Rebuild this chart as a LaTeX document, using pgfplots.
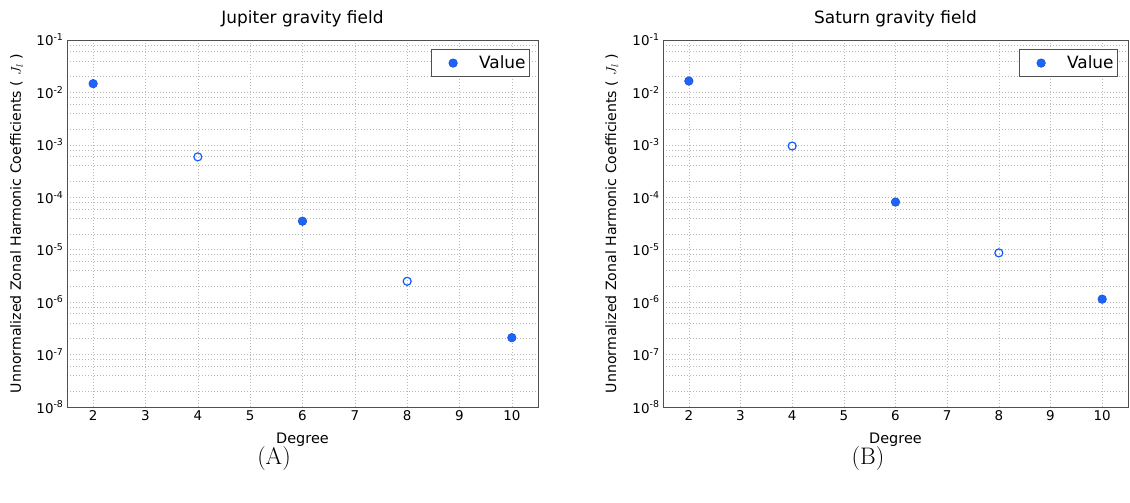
\documentclass[border=0pt]{standalone}
\usepackage{fontspec}
\usepackage{pgfplots}
\usepackage{pgfplotstable}
\pgfplotsset{compat=1.18}
\newfontfamily\dv{DejaVu Sans}
\definecolor{mblue}{RGB}{30,100,250}
\definecolor{mblueedge}{RGB}{20,75,215}
\definecolor{hblue}{RGB}{15,90,255}
\definecolor{frame}{RGB}{80,80,80}
\definecolor{gridc}{RGB}{185,185,185}

\pgfplotstableread{
deg val
2 0.0147
6 3.5e-5
10 2.1e-7
}\juppos
\pgfplotstableread{
deg val
4 5.9e-4
8 2.5e-6
}\jupneg
\pgfplotstableread{
deg val
2 0.0165
6 8.1e-5
10 1.14e-6
}\satpos
\pgfplotstableread{
deg val
4 9.5e-4
8 8.7e-6
}\satneg

\pgfkeys{/pgf/number format/assume math mode=true}

\begin{document}
\begin{tikzpicture}
\path[use as bounding box] (0bp,0bp) rectangle (1130bp,503bp);
\begin{axis}[at={(67bp,96bp)}, anchor=south west, width=471bp, height=367bp,
    scale only axis,
    ymode=log,
    xmin=1.5, xmax=10.5,
    ymin=1e-8, ymax=1e-1,
    xtick={2,3,4,5,6,7,8,9,10},
    ytick={1e-8,1e-7,1e-6,1e-5,1e-4,1e-3,1e-2,1e-1},
    yticklabels={10\textsuperscript{-8},10\textsuperscript{-7},10\textsuperscript{-6},10\textsuperscript{-5},10\textsuperscript{-4},10\textsuperscript{-3},10\textsuperscript{-2},10\textsuperscript{-1}},
    minor ytick={2e-8,4e-8,6e-8,8e-8,2e-7,4e-7,6e-7,8e-7,2e-6,4e-6,6e-6,8e-6,2e-5,4e-5,6e-5,8e-5,2e-4,4e-4,6e-4,8e-4,2e-3,4e-3,6e-3,8e-3,2e-2,4e-2,6e-2,8e-2},
    grid=both,
    major grid style={dash pattern=on 1bp off 2bp, gridc, line width=0.6bp},
    minor grid style={dash pattern=on 1bp off 2bp, gridc, line width=0.6bp},
    axis line style={frame, line width=0.9bp},
    major tick length=0pt, minor tick length=0pt,
    tick label style={font=\dv\fontsize{13.5}{15}\selectfont},
    xlabel style={at={(axis description cs:0.5,-0.09)}, anchor=center},
    ylabel style={at={(axis description cs:-0.107,0.5)}, anchor=center},
    title style={yshift=3bp},
    xlabel={\dv\fontsize{14.5}{17}\selectfont Degree},
    ylabel={\dv\fontsize{14.2}{17}\selectfont Unnormalized Zonal Harmonic Coefficients (\hspace{5bp}$J_l$\hspace{5bp})},
    title={\dv\fontsize{17}{20}\selectfont Jupiter gravity field},
    legend style={at={(1,1)}, anchor=north east, xshift=-8bp, yshift=-9bp,
      draw=frame, line width=0.8bp, fill=white,
      font=\dv\fontsize{17}{19}\selectfont, inner xsep=2bp, inner ysep=4.5bp}]
\addplot[only marks, mark=*, mark size=4.3bp, mark options={fill=mblue, draw=mblueedge, line width=0.5bp},
  legend image code/.code={\path[draw=none,fill=none] (0bp,-4bp) rectangle (44bp,4bp); \draw[##1] plot coordinates {(20bp,0bp)};}] table[x=deg,y=val]{\juppos};
\addlegendentry{Value\hspace{5bp}}
\addplot[only marks, mark=o, mark size=4bp, mark options={fill=white, draw=hblue, line width=1.2bp}, forget plot] table[x=deg,y=val]{\jupneg};
\end{axis}
\begin{axis}[at={(663bp,96bp)}, anchor=south west, width=465bp, height=367bp,
    scale only axis,
    ymode=log,
    xmin=1.5, xmax=10.5,
    ymin=1e-8, ymax=1e-1,
    xtick={2,3,4,5,6,7,8,9,10},
    ytick={1e-8,1e-7,1e-6,1e-5,1e-4,1e-3,1e-2,1e-1},
    yticklabels={10\textsuperscript{-8},10\textsuperscript{-7},10\textsuperscript{-6},10\textsuperscript{-5},10\textsuperscript{-4},10\textsuperscript{-3},10\textsuperscript{-2},10\textsuperscript{-1}},
    minor ytick={2e-8,4e-8,6e-8,8e-8,2e-7,4e-7,6e-7,8e-7,2e-6,4e-6,6e-6,8e-6,2e-5,4e-5,6e-5,8e-5,2e-4,4e-4,6e-4,8e-4,2e-3,4e-3,6e-3,8e-3,2e-2,4e-2,6e-2,8e-2},
    grid=both,
    major grid style={dash pattern=on 1bp off 2bp, gridc, line width=0.6bp},
    minor grid style={dash pattern=on 1bp off 2bp, gridc, line width=0.6bp},
    axis line style={frame, line width=0.9bp},
    major tick length=0pt, minor tick length=0pt,
    tick label style={font=\dv\fontsize{13.5}{15}\selectfont},
    xlabel style={at={(axis description cs:0.5,-0.09)}, anchor=center},
    ylabel style={at={(axis description cs:-0.110,0.5)}, anchor=center},
    title style={yshift=3bp},
    xlabel={\dv\fontsize{14.5}{17}\selectfont Degree},
    ylabel={\dv\fontsize{14.2}{17}\selectfont Unnormalized Zonal Harmonic Coefficients (\hspace{5bp}$J_l$\hspace{5bp})},
    title={\dv\fontsize{17}{20}\selectfont Saturn gravity field},
    legend style={at={(1,1)}, anchor=north east, xshift=-10bp, yshift=-9bp,
      draw=frame, line width=0.8bp, fill=white,
      font=\dv\fontsize{17}{19}\selectfont, inner xsep=2bp, inner ysep=4.5bp}]
\addplot[only marks, mark=*, mark size=4.3bp, mark options={fill=mblue, draw=mblueedge, line width=0.5bp},
  legend image code/.code={\path[draw=none,fill=none] (0bp,-4bp) rectangle (44bp,4bp); \draw[##1] plot coordinates {(20bp,0bp)};}] table[x=deg,y=val]{\satpos};
\addlegendentry{Value}
\addplot[only marks, mark=o, mark size=4bp, mark options={fill=white, draw=hblue, line width=1.2bp}, forget plot] table[x=deg,y=val]{\satneg};
\end{axis}
\node[font=\fontsize{24}{27}\selectfont] at (274bp,44bp) {(A)};
\node[font=\fontsize{24}{27}\selectfont] at (868bp,44bp) {(B)};
\end{tikzpicture}
\end{document}
